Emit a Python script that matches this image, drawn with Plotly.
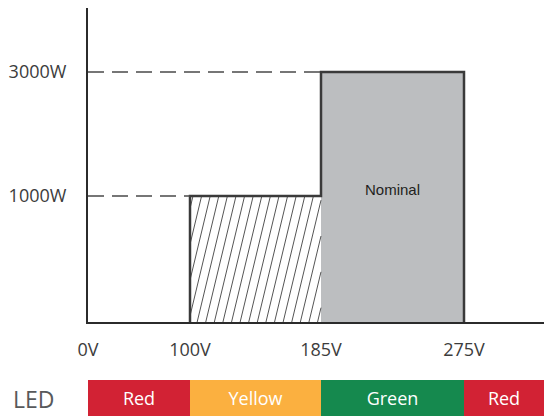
import numpy as np
import plotly.graph_objects as go

# ---------------- data ----------------
volt_ticks = [0, 100, 185, 275]
volt_labels = ["0V", "100V", "185V", "275V"]
power_ticks = [1000, 3000]
power_labels = ["1000W", "3000W"]

region_start = [100, 185]
region_end = [185, 275]
region_power = [1000, 3000]
region_label = ["", "Nominal"]

led_start = [0, 100, 185, 275]
led_end = [100, 185, 275, 300]
led_names = ["Red", "Yellow", "Green", "Red"]
led_colors = ["#D22234", "#FBB040", "#15894E", "#D22234"]

# ---------------- schematic (non-proportional) scales ----------------
X_V = [0, 100, 185, 275, 300]
X_U = [0, 102, 233, 376, 456]
Y_W = [0, 1000, 3000]
Y_U = [0, 126, 250]


def sx(v):
    return np.interp(v, X_V, X_U)


def sy(w):
    return np.interp(w, Y_W, Y_U)


W, H = 544, 416
FONT = "Open Sans"
TXT = "#3C3C3C"
EDGE = "#3A3A3A"

fig = go.Figure()

# hatched region (reduced power)
x0, x1 = float(sx(region_start[0])), float(sx(region_end[0]))
h0 = float(sy(region_power[0]))
lean = 0.24 * h0
step = 8.6
hx, hy = [], []
xb = x0 - lean + 3
while xb < x1:
    t0 = max(0.0, (x0 - xb) / lean)
    t1 = min(1.0, (x1 - xb) / lean)
    if t1 > t0:
        hx += [xb + t0 * lean, xb + t1 * lean, None]
        hy += [t0 * h0, t1 * h0, None]
    xb += step
fig.add_trace(go.Scatter(x=hx, y=hy, mode="lines",
                         line=dict(color="#555555", width=1),
                         hoverinfo="skip", showlegend=False))

# nominal region (grey box)
xs1, xe1 = float(sx(region_start[1])), float(sx(region_end[1]))
h1 = float(sy(region_power[1]))
fig.add_trace(go.Bar(x=[(xs1 + xe1) / 2], y=[h1], width=[xe1 - xs1], base=0,
                     marker=dict(color="#BCBEC0", line=dict(width=0)),
                     showlegend=False, hoverinfo="skip"))

# step outline
ox = [x0, x0, x1, xs1, xe1, xe1]
oy = [0, h0, h0, h1, h1, 0]
fig.add_trace(go.Scatter(x=ox, y=oy, mode="lines",
                         line=dict(color=EDGE, width=2.5),
                         hoverinfo="skip", showlegend=False))

# dashed guide lines to the power levels
for s, p in zip(region_start, region_power):
    fig.add_trace(go.Scatter(x=[0, float(sx(s))], y=[float(sy(p))] * 2, mode="lines",
                             line=dict(color="#4A4A4A", width=1.5, dash="16px,8px"),
                             hoverinfo="skip", showlegend=False))

fig.add_annotation(x=(xs1 + xe1) / 2, y=h1 / 2, xref="x", yref="y",
                   text=region_label[1], showarrow=False, yshift=8,
                   xanchor="center", yanchor="middle",
                   font=dict(family="Liberation Sans, Arial", size=15, color="#231F20"))

# LED strip
ls = sx(led_start)
le = sx(led_end)
fig.add_trace(go.Bar(x=list(le - ls), y=[0] * len(led_names), base=list(ls),
                     orientation="h", width=1,
                     marker=dict(color=led_colors, line=dict(width=0)),
                     text=led_names, textposition="inside", insidetextanchor="middle",
                     textangle=0, constraintext="none",
                     textfont=dict(family=FONT, size=18, color="white"),
                     xaxis="x2", yaxis="y2", showlegend=False, hoverinfo="skip"))

fig.add_annotation(x=33 / W, y=(H - 399) / H, xref="paper", yref="paper",
                   text="LED", showarrow=False, xanchor="center", yanchor="middle",
                   font=dict(family=FONT, size=23, color="#58595B"))

fig.update_layout(
    width=W, height=H, margin=dict(l=0, r=0, t=0, b=0, autoexpand=False),
    paper_bgcolor="white", plot_bgcolor="white",
    bargap=0,
    xaxis=dict(domain=[88 / W, 1], range=[0, 456], showgrid=False, zeroline=False,
               automargin=False,
               showline=True, linecolor="#2B2B2B", linewidth=2,
               tickmode="array", tickvals=list(sx(volt_ticks)), ticktext=volt_labels,
               ticks="", ticklabelstandoff=10,
               tickfont=dict(family=FONT, size=18, color=TXT)),
    yaxis=dict(domain=[(H - 322) / H, (H - 8) / H], range=[0, 314], showgrid=False,
               automargin=False,
               zeroline=False, showline=True, linecolor="#2B2B2B", linewidth=2,
               tickmode="array", tickvals=list(sy(power_ticks)), ticktext=power_labels,
               ticks="", ticklabelstandoff=16,
               tickfont=dict(family=FONT, size=18, color=TXT)),
    xaxis2=dict(domain=[88 / W, 1], matches="x", anchor="y2", visible=False,
                automargin=False),
    yaxis2=dict(domain=[0, 36 / H], range=[-0.5, 0.5], anchor="x2", visible=False,
                automargin=False),
)

fig.write_html(
    "out.html",
    config={"displayModeBar": False},
    post_script="document.documentElement.style.overflow='hidden';"
                "document.body.style.margin='0';"
                "document.body.style.overflow='hidden';"
                "var d=document.getElementById('{plot_id}');"
                "d.style.position='fixed';d.style.left='0px';d.style.top='0px';",
)
